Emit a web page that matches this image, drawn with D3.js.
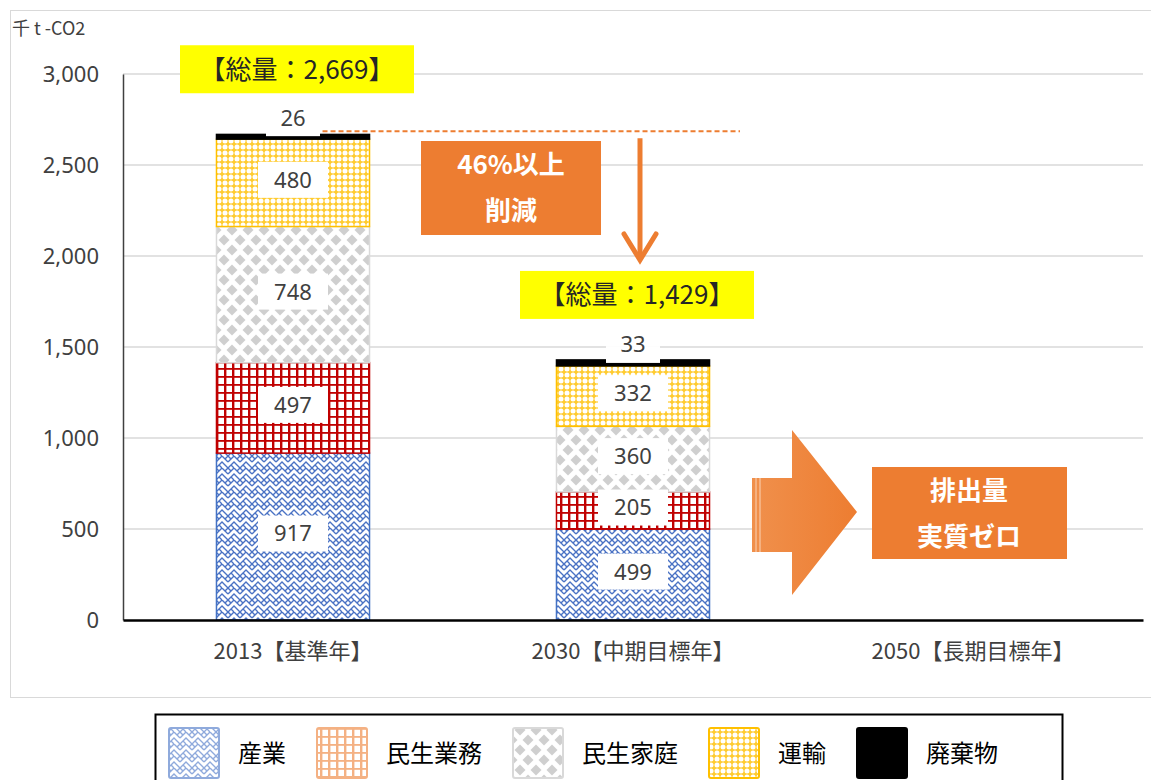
<!DOCTYPE html>
<html>
<head>
<meta charset="utf-8">
<script src="https://cdn.jsdelivr.net/npm/d3@7"></script>
<style>
  body { margin: 0; background: #fff; }
  text { font-family: "Noto Sans CJK JP", "Noto Sans", sans-serif; }
</style>
</head>
<body>
<div id="chart"></div>
<script>
// data (千 t-CO2)
var categories = ["2013【基準年】", "2030【中期目標年】", "2050【長期目標年】"];
var seriesNames = ["産業", "民生業務", "民生家庭", "運輸", "廃棄物"];
var industry  = [917, 499, 0];
var business  = [497, 205, 0];
var household = [748, 360, 0];
var transport = [480, 332, 0];
var waste     = [26, 33, 0];
var totals    = [2669, 1429, null];
var yTicks    = [0, 500, 1000, 1500, 2000, 2500, 3000];

var svg = d3.select("#chart")
    .append("svg")
    .attr("width", 1151)
    .attr("height", 780);

var defs = svg.append("defs");

// hatch patterns, roughly like the excel fills
function makePattern(id, w, h, bg, draw) {
    var p = defs.append("pattern")
        .attr("id", id)
        .attr("patternUnits", "userSpaceOnUse")
        .attr("width", w)
        .attr("height", h);
    p.append("rect").attr("width", w).attr("height", h).attr("fill", bg);
    draw(p);
}

function weave(color, id) {
    makePattern(id, 12, 12, "#fff", function(p) {
        p.append("path")
            .attr("d", "M0,6 L6,0 L12,6 M0,12 L6,6 L12,12 M3,9 L6,12 M9,3 L12,0 M0,0 L3,3")
            .attr("fill", "none")
            .attr("stroke", color)
            .attr("stroke-width", 1.4);
    });
}
weave("#4a72c4", "pat-ind");
weave("#8faadc", "pat-ind-leg");

function grid(color, id) {
    makePattern(id, 8, 8, "#fff", function(p) {
        p.append("rect").attr("x", 0).attr("y", 0).attr("width", 2.4).attr("height", 8).attr("fill", color);
        p.append("rect").attr("x", 0).attr("y", 0).attr("width", 8).attr("height", 1.8).attr("fill", color);
    });
}
grid("#c00000", "pat-bus");
grid("#f4b183", "pat-bus-leg");

makePattern("pat-home", 16, 20, "#fff", function(p) {
    [[0, 0], [16, 0], [0, 20], [16, 20], [8, 10]].forEach(function(c) {
        p.append("path")
            .attr("d", "M" + c[0] + "," + (c[1] - 5.5) + " L" + (c[0] + 5.5) + "," + c[1] +
                       " L" + c[0] + "," + (c[1] + 5.5) + " L" + (c[0] - 5.5) + "," + c[1] + "Z")
            .attr("fill", "#cfcfcf");
    });
});

makePattern("pat-trans", 6, 6, "#ffcb2e", function(p) {
    p.append("circle").attr("cx", 3).attr("cy", 3).attr("r", 2.5).attr("fill", "#fff");
});

var barFill   = ["url(#pat-ind)", "url(#pat-bus)", "url(#pat-home)", "url(#pat-trans)", "#000"];
var barStroke = ["#4472c4", "#c00000", "#d9d9d9", "#ffc000", "#000"];
var legFill   = ["url(#pat-ind-leg)", "url(#pat-bus-leg)", "url(#pat-home)", "url(#pat-trans)", "#000"];
var legStroke = ["#8faadc", "#f4b183", "#d9d9d9", "#ffc000", "#000"];

// outer chart frame
svg.append("rect")
    .attr("x", 10.5).attr("y", 10.5)
    .attr("width", 1150).attr("height", 687)
    .attr("fill", "none")
    .attr("stroke", "#d9d9d9");

var x = d3.scaleBand()
    .domain(categories)
    .range([123, 1143])
    .paddingInner(0.544)
    .paddingOuter(0.272);

var y = d3.scaleLinear()
    .domain([0, 3000])
    .range([620, 74]);

// gridlines
svg.append("g").selectAll("line")
    .data(yTicks.slice(1))
    .enter().append("line")
    .attr("x1", 123).attr("x2", 1143)
    .attr("y1", function(d) { return y(d); })
    .attr("y2", function(d) { return y(d); })
    .attr("stroke", "#d9d9d9")
    .attr("stroke-width", 1.5);

// y axis
var yAxis = svg.append("g")
    .attr("transform", "translate(123,0)")
    .call(d3.axisLeft(y).tickValues(yTicks).tickFormat(d3.format(",")).tickSize(0).tickPadding(24));
yAxis.select(".domain").attr("stroke", "#404040").attr("stroke-width", 1.5);
yAxis.selectAll("text")
    .attr("font-size", 22)
    .attr("fill", "#404040")
    .style("font-family", "'Noto Sans', sans-serif");

svg.append("text")
    .attr("x", 12).attr("y", 35)
    .attr("font-size", 18)
    .attr("fill", "#404040")
    .text("千 t -CO2");

// stacked bars
var rows = categories.map(function(c, i) {
    return { cat: c, s0: industry[i], s1: business[i], s2: household[i], s3: transport[i], s4: waste[i] };
});
var stack = d3.stack().keys(["s0", "s1", "s2", "s3", "s4"]);
var layers = stack(rows);

var layerG = svg.append("g").selectAll("g")
    .data(layers)
    .enter().append("g");

layerG.selectAll("rect")
    .data(function(d) { return d.filter(function(e) { return e[1] - e[0] > 0; }); })
    .enter().append("rect")
    .attr("x", function(d) { return x(d.data.cat) + 1; })
    .attr("width", x.bandwidth() - 2)
    .attr("y", function(d) { return y(d[1]); })
    .attr("height", function(d) { return y(d[0]) - y(d[1]); })
    .attr("fill", function() { return barFill[d3.select(this.parentNode).datum().index]; })
    .attr("stroke", function() { return barStroke[d3.select(this.parentNode).datum().index]; })
    .attr("stroke-width", 1.5);

// x axis
var xAxis = svg.append("g")
    .attr("transform", "translate(0,620)")
    .call(d3.axisBottom(x).tickSize(0).tickPadding(23));
xAxis.select(".domain").attr("stroke", "#000").attr("stroke-width", 2.5);
xAxis.selectAll("text")
    .attr("font-size", 22)
    .attr("fill", "#404040")
    .style("font-family", "'Noto Sans CJK JP', sans-serif");

// value labels inside segments (white boxes)
var labelG = svg.append("g");
layers.forEach(function(layer, k) {
    layer.forEach(function(d) {
        var v = d[1] - d[0];
        if (v <= 0) return;
        var cx = x(d.data.cat) + x.bandwidth() / 2;
        var cy = k === 4 ? y(d[1]) - 16 : y((d[0] + d[1]) / 2) - 3;
        if (k === 4) {
            labelG.append("rect")
                .attr("x", cx - 27).attr("y", cy - 18)
                .attr("width", 54).attr("height", 21)
                .attr("fill", "#fff");
            labelG.append("rect")
                .attr("x", cx - 27).attr("y", cy + 3)
                .attr("width", 54).attr("height", y(d[0]) - 3 - (cy + 3))
                .attr("fill", "#fff");
        } else {
            labelG.append("rect")
                .attr("x", cx - 35).attr("y", cy - 18)
                .attr("width", 70).attr("height", 36)
                .attr("fill", "#fff");
        }
        labelG.append("text")
            .attr("x", cx).attr("y", cy)
            .attr("dy", "0.36em")
            .attr("text-anchor", "middle")
            .attr("font-size", 22)
            .attr("fill", "#404040")
            .style("font-family", "'Noto Sans', sans-serif")
            .text(v);
    });
});

// total boxes (yellow)
totals.forEach(function(t, i) {
    if (t == null) return;
    var cx = x(categories[i]) + x.bandwidth() / 2 + 4;
    var bottom = y(t) - 41;
    svg.append("rect")
        .attr("x", cx - 117).attr("y", bottom - 48)
        .attr("width", 234).attr("height", 48)
        .attr("fill", "#ffff00");
    svg.append("text")
        .attr("x", cx).attr("y", bottom - 24)
        .attr("dy", "0.36em")
        .attr("text-anchor", "middle")
        .attr("font-size", 26)
        .attr("fill", "#262626")
        .text("【総量：" + d3.format(",")(t) + "】");
});

var orange = "#ed7d31";

// dashed reference line from the 2013 total
svg.append("line")
    .attr("x1", x(categories[0]) + x.bandwidth() - 48)
    .attr("x2", 740)
    .attr("y1", y(totals[0]) - 3).attr("y2", y(totals[0]) - 3)
    .attr("stroke", orange)
    .attr("stroke-width", 2)
    .attr("stroke-dasharray", "5,3");

// down arrow
svg.append("line")
    .attr("x1", 640).attr("x2", 640)
    .attr("y1", y(totals[0]) + 4).attr("y2", 260)
    .attr("stroke", orange).attr("stroke-width", 5);
svg.append("path")
    .attr("d", "M624,234 L640,260 L656,234")
    .attr("fill", "none")
    .attr("stroke", orange)
    .attr("stroke-width", 5)
    .attr("stroke-linecap", "round");

// "46%以上 削減" box
svg.append("rect")
    .attr("x", 421).attr("y", 141)
    .attr("width", 180).attr("height", 94)
    .attr("fill", orange);
["46%以上", "削減"].forEach(function(s, i) {
    svg.append("text")
        .attr("x", 511).attr("y", 165 + i * 46)
        .attr("dy", "0.36em")
        .attr("text-anchor", "middle")
        .attr("font-size", 26)
        .attr("font-weight", "bold")
        .attr("fill", "#fff")
        .text(s);
});

// big right arrow
var grad = defs.append("linearGradient").attr("id", "arrowGrad");
grad.append("stop").attr("offset", "0%").attr("stop-color", "#f0904c");
grad.append("stop").attr("offset", "100%").attr("stop-color", orange);
svg.append("path")
    .attr("d", "M752,478 L792,478 L792,430 L857,512 L792,595 L792,552 L752,552 Z")
    .attr("fill", "url(#arrowGrad)");
[756, 760].forEach(function(lx) {
    svg.append("line")
        .attr("x1", lx).attr("x2", lx)
        .attr("y1", 478).attr("y2", 552)
        .attr("stroke", "#fbd3b6").attr("stroke-width", 1);
});

// "排出量 実質ゼロ" box
svg.append("rect")
    .attr("x", 872).attr("y", 467)
    .attr("width", 195).attr("height", 92)
    .attr("fill", orange);
["排出量", "実質ゼロ"].forEach(function(s, i) {
    svg.append("text")
        .attr("x", 969).attr("y", 491 + i * 46)
        .attr("dy", "0.36em")
        .attr("text-anchor", "middle")
        .attr("font-size", 26)
        .attr("font-weight", "bold")
        .attr("fill", "#fff")
        .text(s);
});

// legend
svg.append("rect")
    .attr("x", 155.5).attr("y", 714.5)
    .attr("width", 907).attr("height", 90)
    .attr("fill", "#fff")
    .attr("stroke", "#000")
    .attr("stroke-width", 2);

var legX = 169;
seriesNames.forEach(function(name, i) {
    svg.append("rect")
        .attr("x", legX).attr("y", 728)
        .attr("width", 50).attr("height", 50)
        .attr("rx", 2)
        .attr("fill", legFill[i])
        .attr("stroke", legStroke[i])
        .attr("stroke-width", 2);
    var t = svg.append("text")
        .attr("x", legX + 69).attr("y", 753)
        .attr("dy", "0.36em")
        .attr("font-size", 24)
        .attr("fill", "#000")
        .text(name);
    legX = legX + 69 + t.node().getComputedTextLength() + 31;
});
</script>
</body>
</html>
